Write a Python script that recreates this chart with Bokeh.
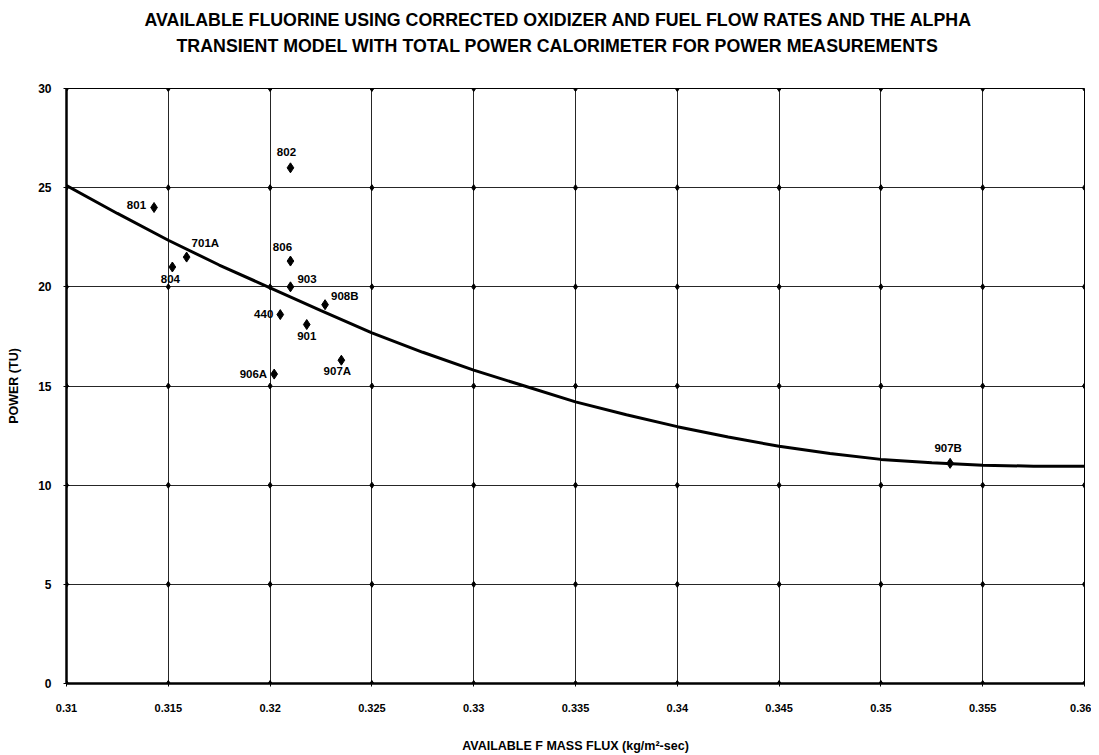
from bokeh.plotting import figure
from bokeh.embed import file_html
from bokeh.resources import INLINE
from bokeh.models import ColumnDataSource, FixedTicker, CustomJSTickFormatter, Title
from bokeh.core.properties import value

# ---- data ----
run_labels = ["802", "801", "701A", "804", "806", "903", "908B", "440", "901", "907A", "906A", "907B"]
flux = [0.3210, 0.3143, 0.3159, 0.3152, 0.3210, 0.3210, 0.3227, 0.3205, 0.3218, 0.3235, 0.3202, 0.3534]
power = [26.0, 24.0, 21.5, 21.0, 21.3, 20.0, 19.1, 18.6, 18.1, 16.3, 15.6, 11.1]

fit_flux = [0.31, 0.3125, 0.315, 0.3175, 0.32, 0.3225, 0.325, 0.3275, 0.33, 0.3325, 0.335,
            0.3375, 0.34, 0.3425, 0.345, 0.3475, 0.35, 0.3525, 0.355, 0.3575, 0.36]
fit_power = [25.1, 23.7, 22.35, 21.1, 19.95, 18.8, 17.68, 16.7, 15.8, 15.0, 14.2,
             13.55, 12.95, 12.43, 11.96, 11.6, 11.3, 11.13, 11.0, 10.96, 10.95]

x_ticks = [0.31, 0.315, 0.32, 0.325, 0.33, 0.335, 0.34, 0.345, 0.35, 0.355, 0.36]
y_ticks = [0, 5, 10, 15, 20, 25, 30]

title_line1 = "AVAILABLE FLUORINE USING CORRECTED OXIDIZER AND FUEL FLOW RATES AND THE ALPHA"
title_line2 = "TRANSIENT MODEL WITH TOTAL POWER CALORIMETER FOR POWER MEASUREMENTS"
x_label = "AVAILABLE F MASS FLUX (kg/m\u00b2-sec)"
y_label = "POWER (TU)"

# ---- figure ----
FONT = "Liberation Sans"
p = figure(width=1091, height=755, x_range=(0.31, 0.36), y_range=(0, 30),
           output_backend="svg", toolbar_location=None, title=title_line1,
           min_border_left=66, min_border_right=7, min_border_top=88, min_border_bottom=72)

def style_title(t, standoff, offset):
    t.align = "left"
    t.offset = offset
    t.text_font = FONT
    t.text_font_size = "17.8px"
    t.text_font_style = "bold"
    t.text_color = "black"
    t.standoff = standoff

# titles stack outward from the frame: spacer, line 2, then figure title (line 1)
spacer = Title(text=" ")
style_title(spacer, 8, 0)
p.add_layout(spacer, "above")
t2 = Title(text=title_line2)
style_title(t2, 6, 110)
p.add_layout(t2, "above")
style_title(p.title, 2, 78)

p.outline_line_color = "black"
p.outline_line_width = 1

for ax in (p.xaxis[0], p.yaxis[0]):
    ax.axis_line_color = "black"
    ax.axis_line_width = 2.5
    ax.major_tick_line_color = "black"
    ax.major_tick_in = 3
    ax.major_tick_out = 3
    ax.minor_tick_line_color = None
    ax.major_label_text_font = FONT
    ax.major_label_text_font_style = "bold"
    ax.major_label_text_color = "black"
    ax.axis_label_text_font = FONT
    ax.axis_label_text_font_style = "bold"
    ax.axis_label_text_font_size = "12.5px"
    ax.axis_label_text_color = "black"

p.xaxis.major_label_text_font_size = "11px"
p.yaxis.major_label_text_font_size = "12px"
p.xaxis.ticker = FixedTicker(ticks=x_ticks)
p.yaxis.ticker = FixedTicker(ticks=y_ticks)
p.xaxis.formatter = CustomJSTickFormatter(code="return (Math.round(tick*1000)/1000).toString();")
p.xaxis.axis_label = x_label
p.yaxis.axis_label = y_label
p.xaxis.major_label_standoff = 17
p.xaxis.axis_label_standoff = 24
p.yaxis.major_label_standoff = 12
p.yaxis.axis_label_standoff = 14

p.xgrid.grid_line_color = "black"
p.ygrid.grid_line_color = "black"
p.xgrid.grid_line_width = 1
p.ygrid.grid_line_width = 1
p.xgrid.grid_line_alpha = 0.85
p.ygrid.grid_line_alpha = 0.85

# small diamonds at grid intersections (as in the original chart paper)
gx = [xt for xt in x_ticks for yt in y_ticks]
gy = [yt for xt in x_ticks for yt in y_ticks]
p.scatter(gx, gy, marker="diamond", size=6, color="black")

# fitted curve
p.line(fit_flux, fit_power, line_color="black", line_width=3)

# points
src = ColumnDataSource(dict(x=flux, y=power, t=run_labels))
p.scatter("x", "y", source=src, marker="diamond", size=10, color="black")

# label placement (screen offsets, px) per point
offs = {
    "802": (-4, -16, "center"),
    "801": (-8, -3, "center_right"),
    "701A": (5, -14, "center_left"),
    "804": (-2, 12, "center"),
    "806": (-8, -14, "center"),
    "903": (7, -8, "center_left"),
    "908B": (6, -9, "center_left"),
    "440": (-7, -1, "center_right"),
    "901": (0, 11, "center"),
    "907A": (-4, 11, "center"),
    "906A": (-7, 0, "center_right"),
    "907B": (-2, -15, "center"),
}
for xi, yi, t in zip(flux, power, run_labels):
    dx, dy, anc = offs[t]
    p.text([xi], [yi], text=[t], x_offset=dx, y_offset=dy, anchor=anc,
           text_font=value(FONT), text_font_style="bold", text_font_size="11.5px",
           text_color="black")

open("out.html", "w").write(file_html(p, INLINE))
